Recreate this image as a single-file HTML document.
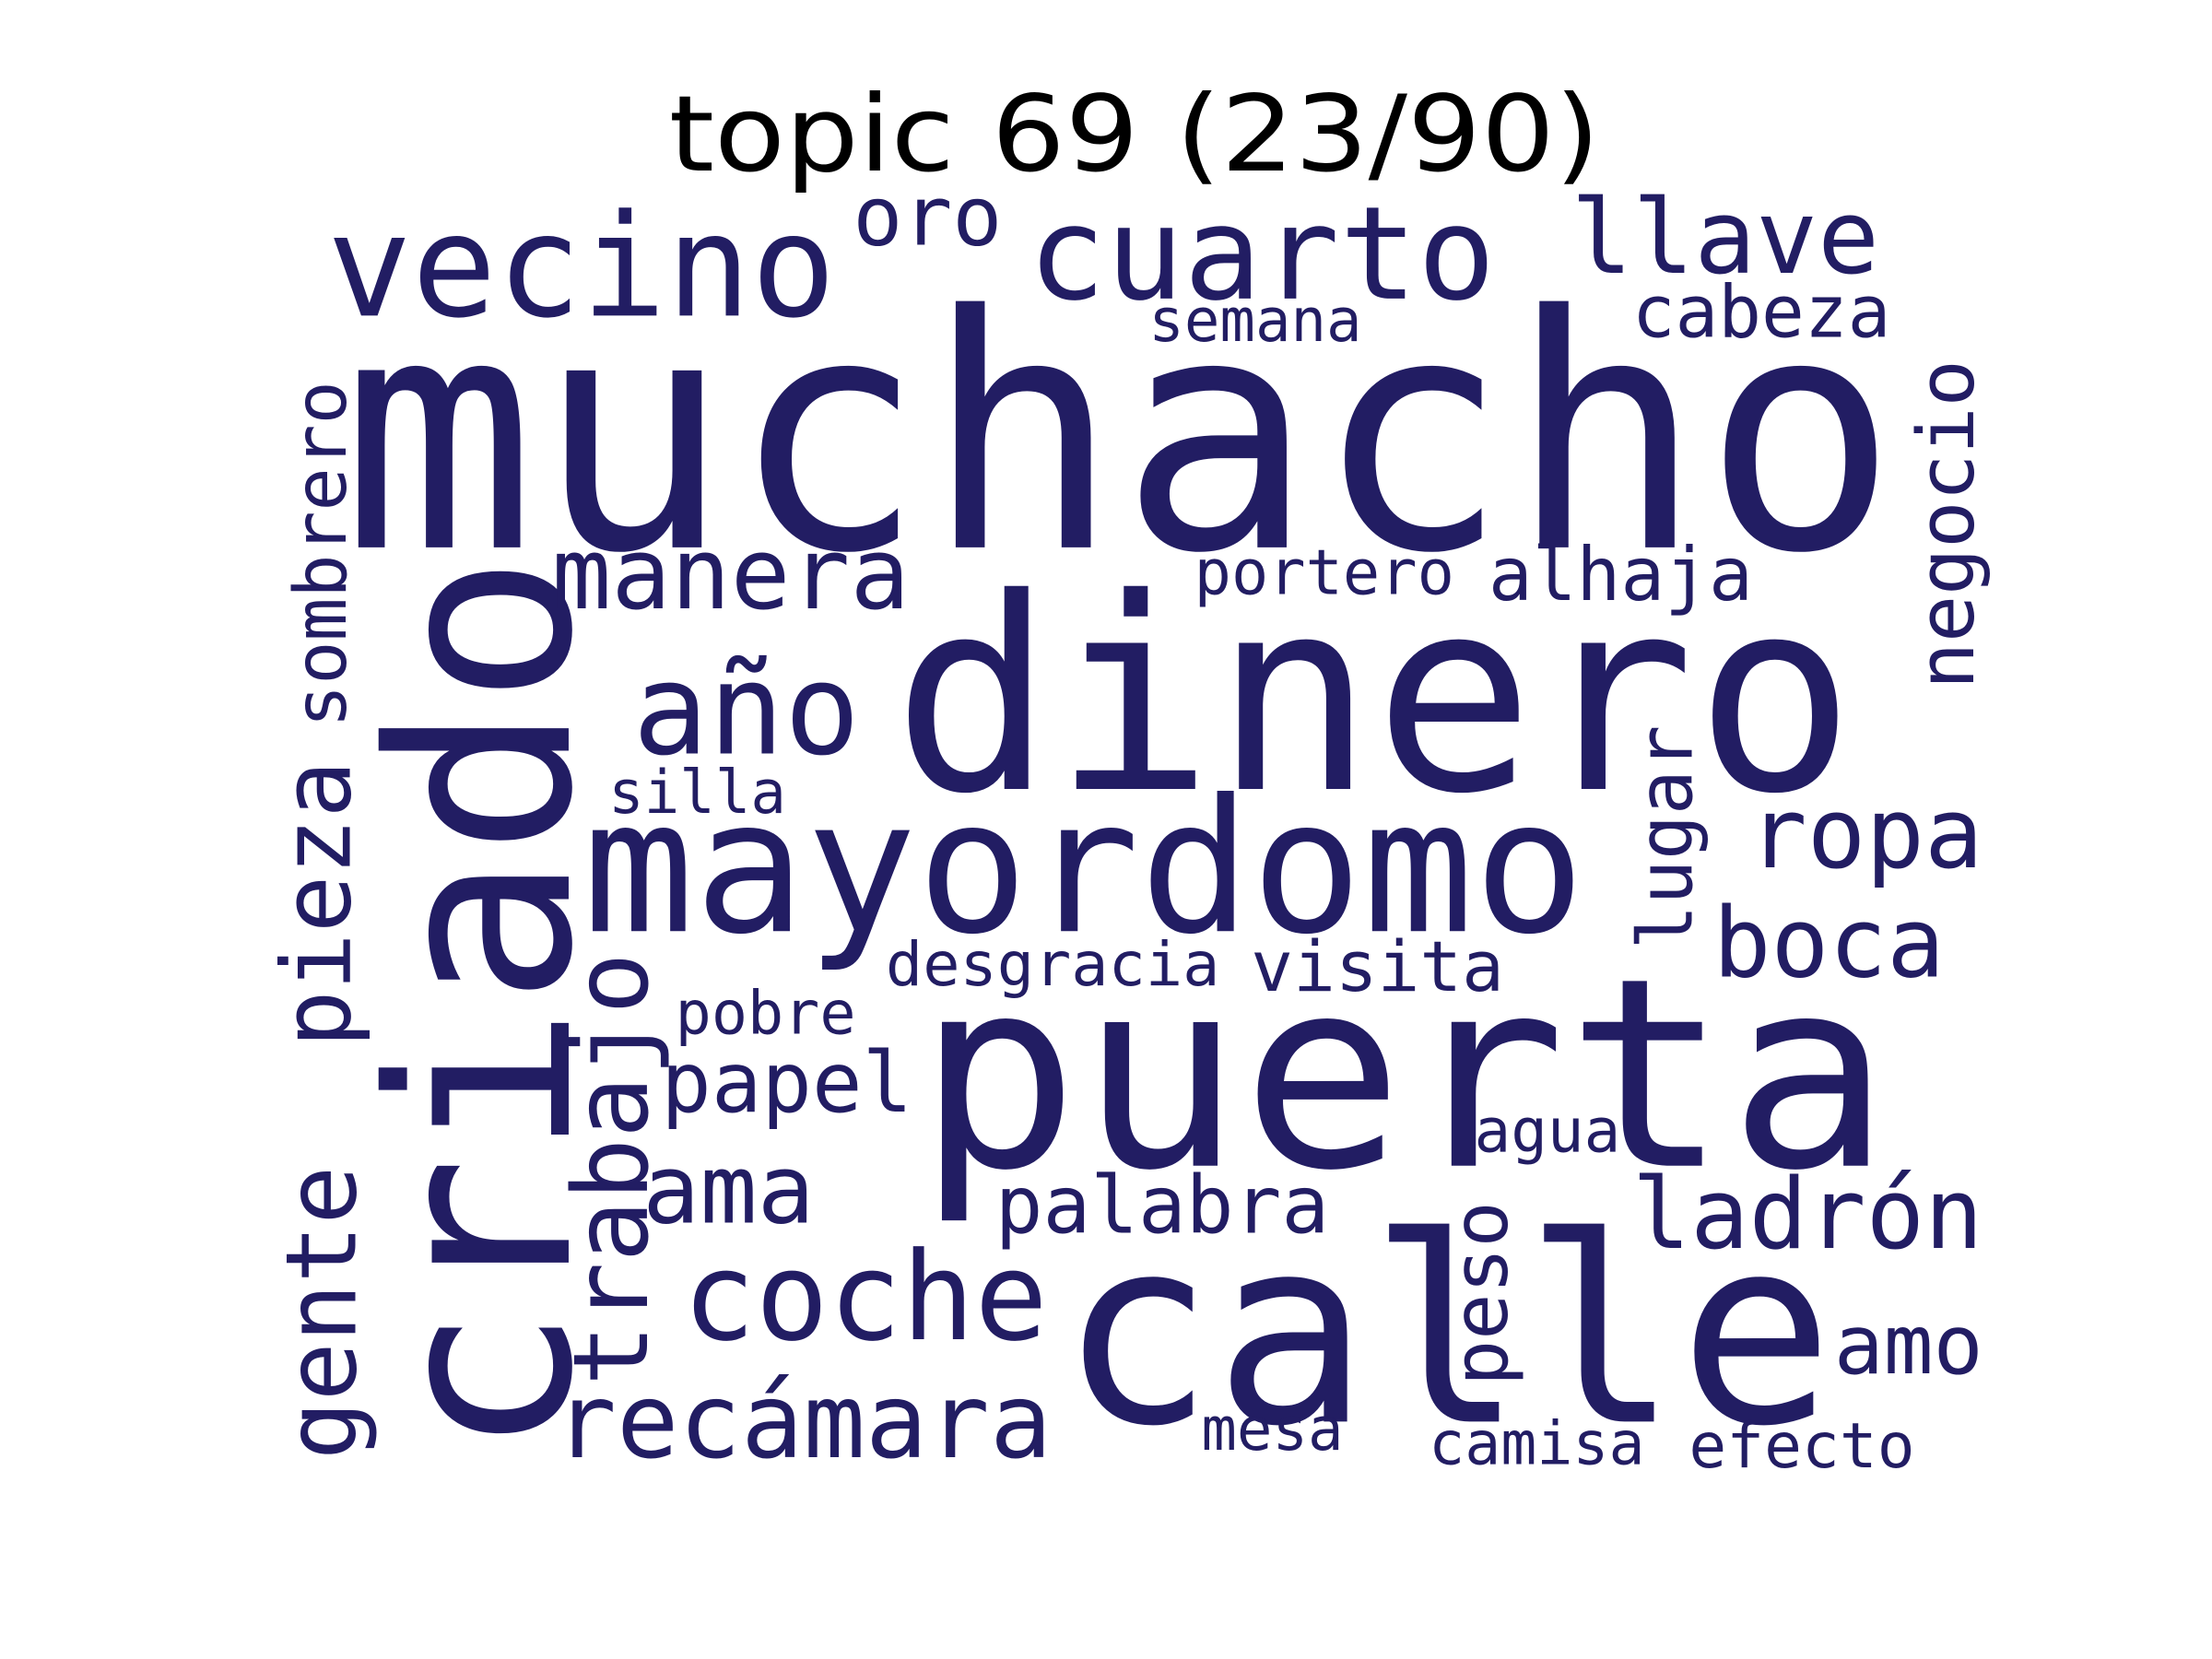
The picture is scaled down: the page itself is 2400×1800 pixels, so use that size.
<!DOCTYPE html>
<html><head><meta charset="utf-8"><title>topic 69 word cloud</title>
<style>html,body{margin:0;padding:0;background:#fff}svg{display:block}</style></head>
<body>
<svg id="cloud" width="2400" height="1800" viewBox="0 0 1556 1167" xmlns="http://www.w3.org/2000/svg">
<rect width="1556" height="1167" fill="#fff"/>
<text x="798" y="120" text-anchor="middle" font-family="DejaVu Sans, Liberation Sans, sans-serif" font-size="74" fill="#000" textLength="655" lengthAdjust="spacingAndGlyphs">topic 69 (23/90)</text>
<g id="words"></g>
</svg>
<script>
// word list, font sizes (relative weight), placement and orientation
const words = ["muchacho","dinero","puerta","calle","criado","mayordomo","vecino","cuarto","llave","oro","semana","cabeza","manera","portero","alhaja","año","silla","ropa","boca","desgracia","visita","pobre","papel","agua","ama","palabra","ladrón","coche","amo","recámara","mesa","camisa","efecto","sombrero","pieza","gente","trabajo","negocio","lugar","peso"];
const sizes = [228,188,185,182,176,130,100,91,72,58,42,51,70,44,52,89,42,69,68,43,49,42,59,43,67,56,69,86,58,73,42,42,44,51,67,69,73,55,53,54];
const xs = [250,638,655,755,400,420,240,733,1115,610,818,1158,398,850,1057,455,438,1240,1215,633,890,485,475,1047,462,710,1158,490,1300,400,855,1015,1198,243,246,250,455,1388,1190,1060];
const ys = [385,555,820,1000,1025,655,222,210,192,172,240,237,428,418,422,530,572,610,687,693,697,727,782,810,860,867,878,942,966,1025,1020,1030,1032,512,737,1027,975,485,668,975];
const lens = [1095,677,685,545,635,705,358,329,217,105,150,182,252,183,186,160,125,165,163,235,178,127,177,103,121,235,247,257,105,350,100,152,159,244,202,207,305,232,158,130];
const vertical = [0,0,0,0,1,0,0,0,0,0,0,0,0,0,0,0,0,0,0,0,0,0,0,0,0,0,0,0,0,0,0,0,0,1,1,1,1,1,1,1];
const g = document.getElementById('words');
const NS = 'http://www.w3.org/2000/svg';
words.forEach((w, i) => {
  const t = document.createElementNS(NS, 'text');
  
  
  t.setAttribute('font-family', 'DejaVu Sans Mono, Liberation Mono, monospace');
  t.setAttribute('font-size', sizes[i]);
  t.setAttribute('fill', '#221d63');
  t.setAttribute('textLength', lens[i]);
  t.setAttribute('lengthAdjust', 'spacingAndGlyphs');
  if (vertical[i]) {
    t.setAttribute('transform', 'translate(' + xs[i] + ',' + ys[i] + ') rotate(-90)');
  } else {
    t.setAttribute('x', xs[i] - 10);
    t.setAttribute('y', ys[i]);
  }
  t.textContent = w;
  g.appendChild(t);
});
</script>
</body></html>
